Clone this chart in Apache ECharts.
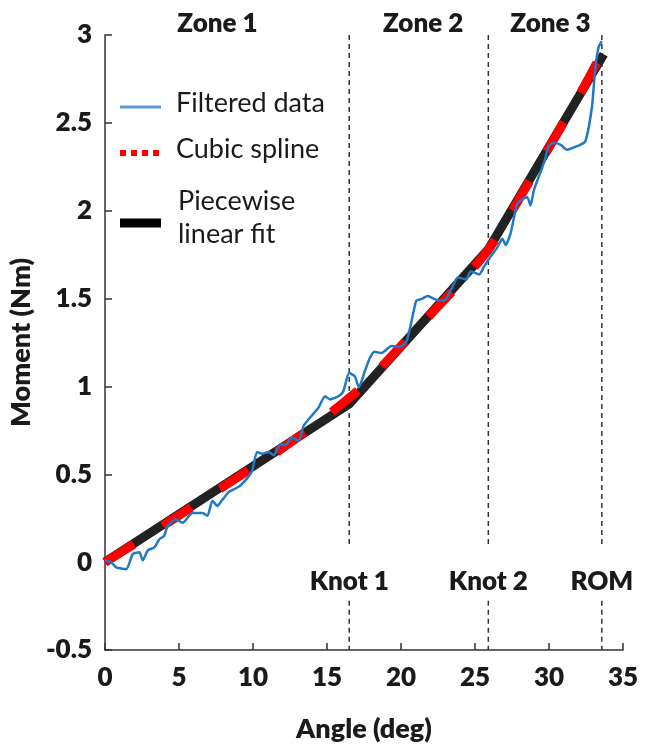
<!DOCTYPE html>
<html><head><meta charset="utf-8">
<script src="https://cdn.jsdelivr.net/npm/echarts@6/dist/echarts.min.js"></script>
<style>html,body{margin:0;padding:0;background:#fff}#c{width:646px;height:748px}</style>
</head><body><div id="c"></div>
<script>
// Filtered data (angle deg, moment Nm)
const filteredX = [0,0.42,0.76,1.43,1.88,2.33,2.55,2.89,3.34,3.67,4.0,4.23,4.79,5.24,5.91,6.58,6.92,7.26,7.59,7.93,8.38,9.05,9.6,9.94,10.28,10.61,11.06,11.4,11.85,12.18,12.63,13.08,13.42,13.86,14.42,14.87,15.2,15.77,16.1,16.5,16.88,17.15,17.55,17.89,18.2,18.68,19.35,19.9,20.35,20.7,21.03,21.36,21.81,22.26,22.7,23.04,23.5,23.83,24.39,24.72,25.28,25.6,26.06,26.5,26.85,27.07,27.4,27.63,27.86,28.2,28.53,28.75,28.97,29.2,29.54,29.76,29.98,30.32,30.77,31.22,31.89,32.45,32.9,33.12,33.35,33.57];
const filteredY = [0.01,0.0,-0.03,-0.04,0.047,0.056,0.01,0.067,0.084,0.13,0.15,0.206,0.243,0.224,0.28,0.28,0.264,0.35,0.32,0.355,0.40,0.43,0.477,0.52,0.627,0.617,0.627,0.608,0.673,0.664,0.71,0.69,0.776,0.823,0.879,0.944,0.926,0.944,0.972,1.076,1.057,0.995,1.085,1.16,1.197,1.19,1.23,1.225,1.253,1.365,1.487,1.497,1.515,1.497,1.487,1.497,1.57,1.62,1.61,1.655,1.637,1.68,1.74,1.79,1.84,1.805,1.87,1.96,2.04,2.067,2.077,2.03,2.114,2.17,2.245,2.3,2.367,2.385,2.376,2.347,2.367,2.394,2.59,2.806,2.93,2.965];
// Cubic spline
const splineX = [0,2,4,6,8,10,12,14,16,17,18,20,22,24,26,28,30,32,33.6];
const splineY = [0,0.105,0.212,0.32,0.43,0.54,0.65,0.77,0.9,0.97,1.05,1.23,1.41,1.59,1.79,2.07,2.36,2.65,2.9];
// Piecewise linear fit
const pwX = [0,16.5,25.9,33.7];
const pwY = [0,0.9,1.78,2.89];
// Knots
const knotX = [16.5,25.9,33.57];
const knotLabels = ['Knot 1','Knot 2','ROM'];
// Zones
const zoneX = [7.6,21.5,30.1];
const zoneLabels = ['Zone 1','Zone 2','Zone 3'];
const xTicks = {min:0,max:35,interval:5};
const yTicks = {min:-0.5,max:3,interval:0.5};

const zip = (a,b) => a.map((v,i)=>[v,b[i]]);
const FONT = 'Lato';
const TXT = '#1a1a1a';
const BW = 800;

const vlineSeries = [];
knotX.forEach(k => {
  vlineSeries.push({type:'line', data:[[k,3],[k,0.085]], symbol:'none', silent:true, z:1,
    lineStyle:{color:'#333', width:1.5, type:[5,4]}});
  vlineSeries.push({type:'line', data:[[k,-0.22],[k,-0.5]], symbol:'none', silent:true, z:1,
    lineStyle:{color:'#333', width:1.5, type:[5,4]}});
});
const lblStyle = {show:true, position:'inside', fontFamily:FONT, fontWeight:BW, fontSize:26, color:TXT, opacity:1};

const chart = echarts.init(document.getElementById('c'), null, {renderer:'canvas'});
chart.setOption({
  animation:false,
  backgroundColor:'#fff',
  grid:{left:102, right:23, top:35, bottom:89, containLabel:false},
  xAxis:{type:'value', min:xTicks.min, max:xTicks.max, interval:xTicks.interval,
    name:'Angle (deg)', nameLocation:'middle', nameGap:66,
    nameTextStyle:{fontFamily:FONT, fontWeight:BW, fontSize:27, color:TXT},
    axisLine:{onZero:false, lineStyle:{color:'#333', width:1.5}},
    axisTick:{show:true, inside:true, length:7, lineStyle:{color:'#333', width:1.5}},
    axisLabel:{fontFamily:FONT, fontWeight:BW, fontSize:26, color:TXT, margin:15},
    splitLine:{show:false}},
  yAxis:{type:'value', min:yTicks.min, max:yTicks.max, interval:yTicks.interval,
    name:'Moment (Nm)', nameLocation:'middle', nameGap:64, nameRotate:90,
    nameTextStyle:{fontFamily:FONT, fontWeight:BW, fontSize:27, color:TXT},
    axisLine:{show:true, onZero:false, lineStyle:{color:'#333', width:1.5}},
    axisTick:{show:true, inside:true, length:7, lineStyle:{color:'#333', width:1.5}},
    axisLabel:{fontFamily:FONT, fontWeight:BW, fontSize:26, color:TXT, margin:13},
    splitLine:{show:false}},
  series:[
    ...vlineSeries,
    {type:'line', name:'Piecewise linear fit', data:zip(pwX,pwY), symbol:'none', z:3,
      lineStyle:{color:'#222', width:9, cap:'butt'}},
    {type:'line', name:'Cubic spline', data:zip(splineX,splineY), symbol:'none', smooth:0.3, z:4,
      lineStyle:{color:'#ff0000', width:9, type:[34,34], cap:'butt'}},
    {type:'line', name:'Filtered data', data:zip(filteredX,filteredY), symbol:'none', smooth:0.2, z:5,
      lineStyle:{color:'#1f78c8', width:2.5}},
    {type:'scatter', data:knotX.map((k,i)=>({value:[k,-0.11], label:{formatter:knotLabels[i]}})),
      symbolSize:0, silent:true, z:6, itemStyle:{opacity:1}, label:lblStyle},
    {type:'scatter', data:zoneX.map((k,i)=>({value:[k,3.065], label:{formatter:zoneLabels[i]}})),
      symbolSize:0, silent:true, clip:false, z:6, itemStyle:{opacity:1}, label:lblStyle}
  ],
  graphic:[
    {type:'line', shape:{x1:120,y1:107,x2:161,y2:107}, style:{stroke:'#5b9bd5', lineWidth:3}},
    {type:'text', left:176, top:90, style:{text:'Filtered data', font:'27px Lato', fill:TXT}},
    {type:'line', shape:{x1:120,y1:153,x2:161,y2:153}, style:{stroke:'#ff0000', lineWidth:6, lineDash:[6,5]}},
    {type:'text', left:176, top:136, style:{text:'Cubic spline', font:'27px Lato', fill:TXT}},
    {type:'line', shape:{x1:120,y1:223,x2:161,y2:223}, style:{stroke:'#000', lineWidth:9}},
    {type:'text', left:178, top:188, style:{text:'Piecewise', font:'27px Lato', fill:TXT}},
    {type:'text', left:178, top:221, style:{text:'linear fit', font:'27px Lato', fill:TXT}}
  ]
});
</script></body></html>
